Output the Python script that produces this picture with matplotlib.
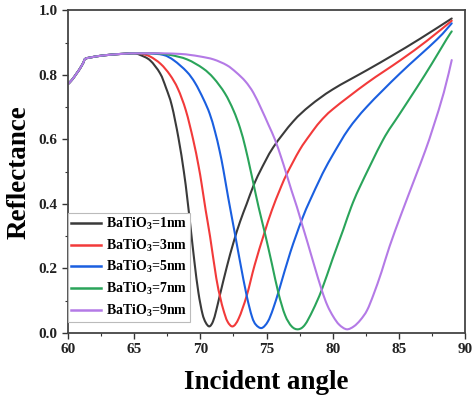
import matplotlib
matplotlib.use("Agg")
import matplotlib.pyplot as plt
from matplotlib.path import Path
from matplotlib.patches import PathPatch
from matplotlib.lines import Line2D

plt.rcParams['font.family'] = ['Liberation Serif', 'DejaVu Serif']
plt.rcParams['font.weight'] = 'bold'
plt.rcParams['mathtext.fontset'] = 'custom'
plt.rcParams['mathtext.bf'] = 'Liberation Serif:bold'
plt.rcParams['mathtext.rm'] = 'Liberation Serif:bold'
plt.rcParams['mathtext.default'] = 'bf'

start_x = [60.0, 60.3, 60.65, 60.9, 61.15, 61.3, 61.8, 62.4, 63.3, 64.4, 65.0]
start_y = [0.772, 0.785, 0.805, 0.82, 0.838, 0.850, 0.855, 0.859, 0.863, 0.866, 0.867]

x_1nm = [65.44, 66.2, 66.95, 67.4, 67.84, 68.34, 68.75, 69.0, 69.25, 69.55, 69.85, 70.15,
         70.4, 70.68, 70.95, 71.2, 71.49, 72.0, 72.5, 73.0, 73.5, 74.0, 74.5, 75.5, 77.0,
         78.3, 80.0, 82.6, 84.5, 86.6, 89.0]
y_1nm = [0.862, 0.845, 0.805, 0.76, 0.705, 0.605, 0.50, 0.42, 0.33, 0.22, 0.125, 0.06,
         0.032, 0.02, 0.035, 0.07, 0.12, 0.205, 0.28, 0.345, 0.40, 0.455, 0.50, 0.575, 0.655,
         0.705, 0.755, 0.815, 0.86, 0.912, 0.975]

x_3nm = [65.5, 66.2, 67.0, 67.7, 68.3, 68.9, 69.45, 69.85, 70.1, 70.4, 70.73, 71.2, 71.5,
         71.74, 72.05, 72.45, 72.9, 73.5, 74.1, 74.8, 75.4, 76.0, 76.5, 77.5, 78.3, 79.05,
         80.05, 82.6, 85.1, 87.1, 89.0]
y_3nm = [0.866, 0.857, 0.834, 0.80, 0.757, 0.69, 0.60, 0.52, 0.46, 0.38, 0.299, 0.17, 0.11,
         0.071, 0.035, 0.02, 0.045, 0.115, 0.21, 0.305, 0.38, 0.443, 0.49, 0.567, 0.615, 0.655,
         0.695, 0.775, 0.845, 0.905, 0.968]

x_5nm = [66.0, 67.2, 68.0, 68.97, 69.6, 70.23, 70.7, 71.1, 71.45, 71.74, 72.1, 72.62, 73.0,
         73.5, 73.9, 74.2, 74.64, 75.1, 75.5, 76.0, 76.8, 77.66, 78.3, 79.05, 79.4, 80.05,
         81.2, 82.6, 85.1, 87.86, 89.0]
y_5nm = [0.867, 0.862, 0.845, 0.81, 0.775, 0.725, 0.68, 0.625, 0.565, 0.505, 0.42, 0.305, 0.22,
         0.115, 0.05, 0.025, 0.015, 0.035, 0.075, 0.14, 0.25, 0.35, 0.412, 0.478, 0.507, 0.555,
         0.632, 0.702, 0.805, 0.909, 0.96]

x_7nm = [66.5, 67.7, 69.0, 70.2, 71.0, 71.85, 72.5, 73.0, 73.4, 73.76, 74.0, 74.4, 74.9,
         75.4, 75.9, 76.4, 76.9, 77.4, 77.9, 78.5, 79.17, 80.0, 80.8, 81.4, 82.07, 83.8,
         85.0, 86.35, 87.5, 88.6, 89.0]
y_7nm = [0.867, 0.862, 0.848, 0.82, 0.79, 0.743, 0.69, 0.635, 0.575, 0.51, 0.465, 0.39, 0.305,
         0.215, 0.123, 0.055, 0.02, 0.011, 0.025, 0.07, 0.133, 0.23, 0.32, 0.39, 0.454, 0.598,
         0.675, 0.76, 0.835, 0.91, 0.935]

x_9nm = [67.0, 68.5, 69.2, 70.0, 71.0, 72.0, 72.7, 73.4, 74.0, 74.6, 75.15, 75.65, 76.1,
         76.45, 76.9, 77.3, 77.66, 78.1, 78.6, 79.17, 79.6, 80.05, 80.5, 81.06, 81.6, 82.1,
         82.6, 83.1, 83.7, 84.3, 85.2, 86.2, 87.0, 87.6, 88.4, 89.0]
y_9nm = [0.867, 0.865, 0.862, 0.857, 0.848, 0.83, 0.808, 0.78, 0.745, 0.695, 0.645, 0.598, 0.545,
         0.50, 0.44, 0.39, 0.34, 0.28, 0.21, 0.133, 0.085, 0.05, 0.025, 0.011, 0.02, 0.04,
         0.07, 0.12, 0.19, 0.268, 0.37, 0.478, 0.565, 0.638, 0.745, 0.846]

labels = ['BaTiO$_3$=1nm', 'BaTiO$_3$=3nm', 'BaTiO$_3$=5nm', 'BaTiO$_3$=7nm', 'BaTiO$_3$=9nm']
colors = ['#3a3a3a', '#f23a3a', '#1a5fe0', '#2aa45a', '#b47ae6']
series = [(x_1nm, y_1nm), (x_3nm, y_3nm), (x_5nm, y_5nm), (x_7nm, y_7nm), (x_9nm, y_9nm)]


def smooth_path(xs, ys):
    """Cubic Bezier path passing through the read points (Catmull-Rom tangents)."""
    pts = list(zip(xs, ys))
    n = len(pts)
    verts = [pts[0]]
    codes = [Path.MOVETO]
    for i in range(n - 1):
        p0 = pts[i - 1] if i > 0 else pts[i]
        p1 = pts[i]
        p2 = pts[i + 1]
        p3 = pts[i + 2] if i + 2 < n else pts[i + 1]
        c1 = (p1[0] + (p2[0] - p0[0]) / 6.0, p1[1] + (p2[1] - p0[1]) / 6.0)
        c2 = (p2[0] - (p3[0] - p1[0]) / 6.0, p2[1] - (p3[1] - p1[1]) / 6.0)
        verts += [c1, c2, p2]
        codes += [Path.CURVE4, Path.CURVE4, Path.CURVE4]
    return Path(verts, codes)


fig = plt.figure(figsize=(4.73, 4.01), dpi=100)
ax = fig.add_axes([0.144, 0.170, 0.839, 0.804])

handles = []
for (xs, ys), lab, col in zip(series, labels, colors):
    path = smooth_path(start_x + xs, start_y + ys)
    ax.add_patch(PathPatch(path, facecolor='none', edgecolor=col, lw=1.5,
                           capstyle='round', joinstyle='round'))
    handles.append(Line2D([], [], color=col, lw=1.8, label=lab))

ax.set_xlim(60, 90)
ax.set_ylim(0, 1.0)
ax.set_xticks([60, 65, 70, 75, 80, 85, 90])
ax.set_yticks([0.0, 0.2, 0.4, 0.6, 0.8, 1.0])
ax.set_xticks([62.5, 67.5, 72.5, 77.5, 82.5, 87.5], minor=True)
ax.set_yticks([0.1, 0.3, 0.5, 0.7, 0.9], minor=True)
ax.set_yticklabels(['0.0', '0.2', '0.4', '0.6', '0.8', '1.0'])
ax.tick_params(which='major', direction='out', length=4, width=1.0, labelsize=11, colors='#333333')
ax.tick_params(which='minor', direction='out', length=2.5, width=0.8, colors='#333333')
for lab in ax.get_xticklabels() + ax.get_yticklabels():
    lab.set_fontweight('bold')
    lab.set_color('#222222')
for sp in ax.spines.values():
    sp.set_linewidth(1.3)
    sp.set_color('#444444')

ax.set_xlabel('Incident angle', fontsize=19.5, fontweight='bold', labelpad=10)
ax.set_ylabel('Reflectance', fontsize=19.5, fontweight='bold', labelpad=5)

leg = ax.legend(handles=handles, loc='lower left', bbox_to_anchor=(0.0, 0.035), fontsize=10,
                frameon=True, fancybox=False, edgecolor='#bbbbbb', framealpha=1,
                handlelength=2.2, labelspacing=0.4, borderpad=0.2, handletextpad=0.3,
                borderaxespad=0.0)
leg.get_frame().set_linewidth(0.8)
for t in leg.get_texts():
    t.set_fontweight('bold')

fig.savefig('out.png', dpi=100)
